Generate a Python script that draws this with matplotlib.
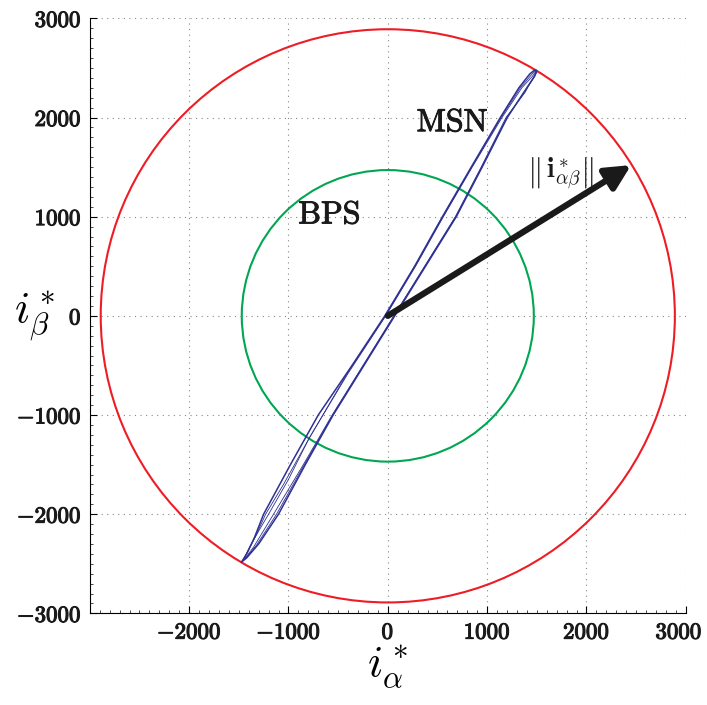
import numpy as np
import matplotlib
matplotlib.use("Agg")
import matplotlib.pyplot as plt
from matplotlib.patches import Circle
from matplotlib.ticker import MultipleLocator, FuncFormatter
import matplotlib.transforms as mtransforms
import matplotlib.patheffects as pe

plt.rcParams['mathtext.fontset'] = 'cm'
plt.rcParams['font.family'] = ['DejaVu Serif']

# ---- data ----
xticks = [-2000, -1000, 0, 1000, 2000, 3000]
yticks = [-3000, -2000, -1000, 0, 1000, 2000, 3000]
r_msn = 2890      # red circle radius
r_bps = 1470      # green circle radius
arrow_tip = (2450, 1520)

loop1_x = [-1470, -1420, -1340, -1250, -980, -700, -360, -30, 270, 550, 840, 1133, 1320, 1430, 1480,
           1500, 1480, 1400, 1203, 950, 690, 380, 70, -240, -550, -830, -1100, -1300, -1420, -1470]
loop1_y = [-2480, -2400, -2230, -2000, -1500, -1000, -500, 0, 500, 1000, 1500, 2000, 2300, 2440, 2480,
           2470, 2420, 2300, 2000, 1500, 1000, 500, 0, -500, -1000, -1500, -2000, -2300, -2440, -2480]

loop2_x = [-1460, -1390, -1300, -1200, -1000, -790, -400, -20, 280, 560, 850, 1150, 1350, 1460, 1500,
           1490, 1440, 1380, 1190, 940, 680, 370, 60, -250, -560, -850, -1150, -1350, -1440, -1460]
loop2_y = [-2470, -2330, -2170, -2000, -1650, -1230, -580, 0, 500, 1000, 1500, 2000, 2300, 2420, 2480,
           2440, 2360, 2250, 2000, 1500, 1000, 500, 0, -500, -1000, -1500, -2000, -2330, -2450, -2470]

loop3_x = [-1465, -1400, -1320, -1230, -1050, -800, -420, -25, 275, 555, 845, 1140, 1335, 1445, 1490,
           1495, 1470, 1390, 1200, 945, 685, 375, 65, -245, -555, -840, -1120, -1320, -1430, -1465]
loop3_y = [-2475, -2360, -2200, -2000, -1700, -1250, -600, 0, 500, 1000, 1500, 2000, 2300, 2430, 2475,
           2455, 2400, 2280, 2000, 1500, 1000, 500, 0, -500, -1000, -1500, -2000, -2310, -2445, -2475]

fig = plt.figure(figsize=(7.07, 7.05), dpi=100)
ax = fig.add_axes([0.127, 0.130, 0.843, 0.844])

ax.set_xlim(-3000, 3000)
ax.set_ylim(-3000, 3000)

ax.add_patch(Circle((0, 0), r_msn, fill=False, color='#ee1c25', lw=1.5, zorder=3))
ax.add_patch(Circle((0, 0), r_bps, fill=False, color='#00a651', lw=1.5, zorder=3))

blue = '#2e3192'
for lx, ly, lw in [(loop1_x, loop1_y, 1.1), (loop2_x, loop2_y, 0.6), (loop3_x, loop3_y, 0.6)]:
    ax.plot(lx, ly, color=blue, lw=lw, zorder=4)

ax.annotate('', xy=arrow_tip, xytext=(0, 0),
            arrowprops=dict(arrowstyle='-|>,head_length=1.5,head_width=0.75',
                            color='#1a1a1a', lw=4.5, shrinkA=0, shrinkB=0),
            zorder=5)

bold = [pe.withStroke(linewidth=0.7, foreground='#1a1a1a')]
ax.text(-900, 860, r'$\mathrm{BPS}$', fontsize=23, ha='left', va='bottom', color='#1a1a1a',
        path_effects=bold)
ax.text(290, 1790, r'$\mathrm{MSN}$', fontsize=23, ha='left', va='bottom', color='#1a1a1a',
        path_effects=bold)
ax.text(1400, 1250, r'$\left\|\,\mathbf{i}^*_{\alpha\beta}\right\|$', fontsize=20,
        ha='left', va='bottom', color='#1a1a1a')

ax.set_xticks(xticks)
ax.set_yticks(yticks)
ax.xaxis.set_minor_locator(MultipleLocator(100))
ax.yaxis.set_minor_locator(MultipleLocator(100))
fmt = FuncFormatter(lambda v, p: r'$%d$' % v)
ax.xaxis.set_major_formatter(fmt)
ax.yaxis.set_major_formatter(fmt)
ax.tick_params(axis='both', which='major', direction='in', length=5, width=0.8,
               labelsize=16.5, pad=6, labelcolor='#1a1a1a')
ax.tick_params(axis='both', which='minor', direction='in', length=2.5, width=0.5)
ax.grid(True, which='major', linestyle=(0, (1, 4)), color='#888888', lw=0.8)
for s in ['top', 'right']:
    ax.spines[s].set_visible(False)
for s in ['left', 'bottom']:
    ax.spines[s].set_linewidth(0.8)

fig.canvas.draw()
for lbl in ax.get_xticklabels() + ax.get_yticklabels():
    lbl.set_path_effects([pe.withStroke(linewidth=0.8, foreground='#1a1a1a')])
# nudge the last x tick label left so it stays inside the figure
lbls = ax.get_xticklabels()
off = mtransforms.ScaledTranslation(-5 / 72, 0, fig.dpi_scale_trans)
lbls[-1].set_transform(lbls[-1].get_transform() + off)

ax.set_xlabel(r'$i^*_\alpha$', fontsize=32, labelpad=0)
ax.text(-0.092, 0.5, r'$i^*_\beta$', fontsize=32, transform=ax.transAxes,
        ha='center', va='center')

fig.savefig('out.png', dpi=100)
